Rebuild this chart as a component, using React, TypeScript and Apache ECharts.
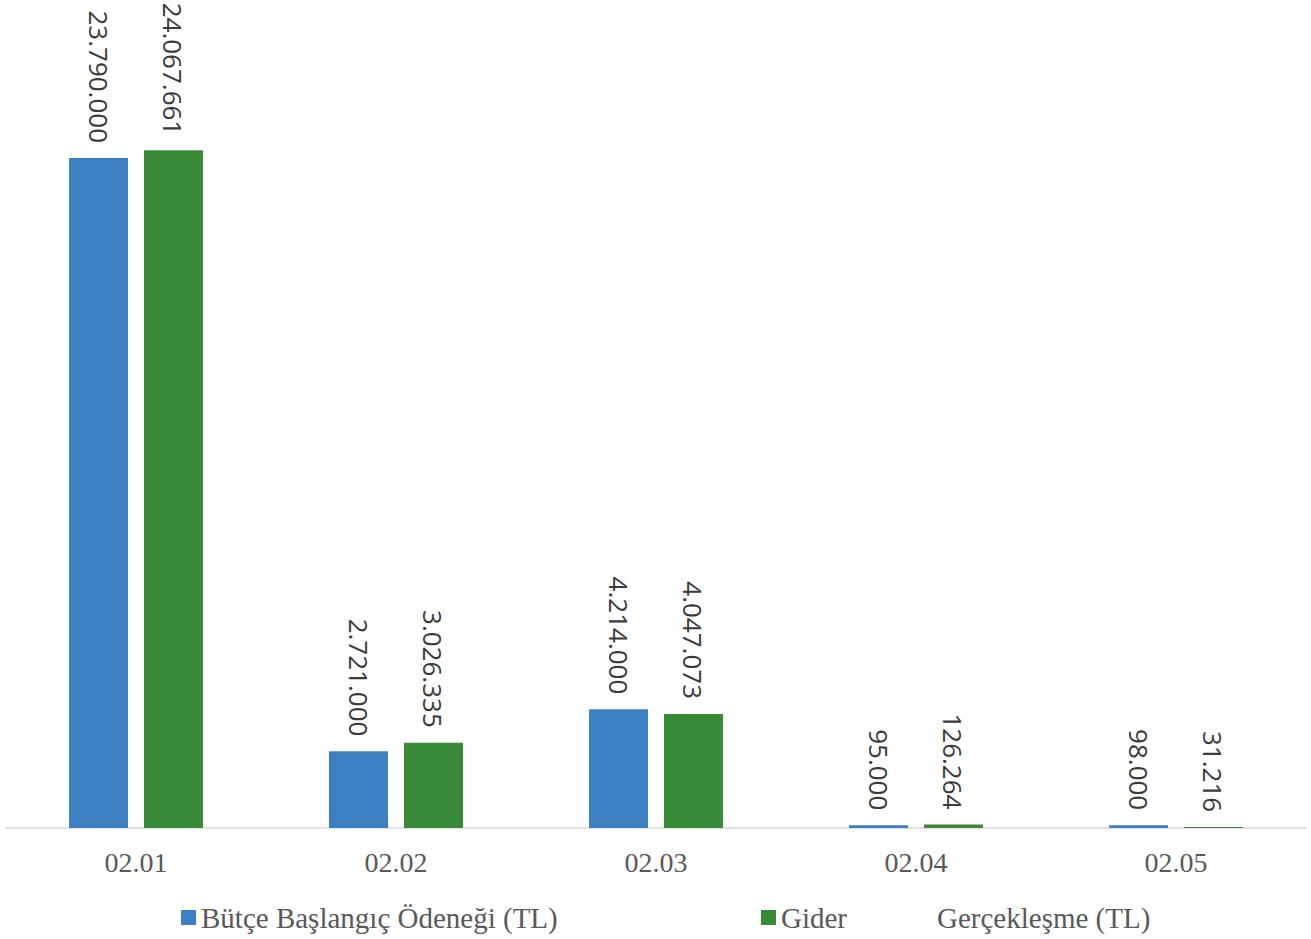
import React, { useEffect, useRef } from "react";
import * as echarts from "echarts";

const categories = ["02.01", "02.02", "02.03", "02.04", "02.05"];
const budgetName = "Bütçe Başlangıç Ödeneği (TL)";
const spendName = "Gider Gerçekleşme (TL)";
const budgetValues = [23790000, 2721000, 4214000, 95000, 98000];
const spendValues = [24067661, 3026335, 4047073, 126264, 31216];

const fmt = (v: number) => String(Math.round(v)).replace(/\B(?=(\d{3})+(?!\d))/g, ".");

export default function App() {
  const ref = useRef<HTMLDivElement>(null);
  useEffect(() => {
    const chart = echarts.init(ref.current!, null, { renderer: "svg" });
    const label = {
      show: true,
      position: "top" as const,
      rotate: -90,
      align: "right" as const,
      verticalAlign: "middle" as const,
      distance: 15,
      fontFamily: "Open Sans",
      fontSize: 26,
      color: "#3a3a3a",
      formatter: (p: any) => fmt(p.value),
    };
    const legendText = {
      fontFamily: "Liberation Serif",
      fontSize: 29,
      color: "#595959",
    };
    chart.setOption({
      animation: false,
      grid: { left: 6, right: 5, top: 39.5, bottom: 111, containLabel: false },
      legend: [
        {
          data: [budgetName],
          left: 176,
          top: 898,
          itemWidth: 15,
          itemHeight: 15,
          icon: "rect",
          textStyle: legendText,
        },
        {
          data: [spendName],
          left: 756,
          top: 898,
          itemWidth: 15,
          itemHeight: 15,
          icon: "rect",
          textStyle: {
            ...legendText,
            rich: {
              a: { ...legendText, width: 156 },
              b: { ...legendText },
            },
          },
          formatter: () => "{a|Gider}{b|Gerçekleşme (TL)}",
        },
      ],
      xAxis: {
        type: "category",
        data: categories,
        axisLine: { lineStyle: { color: "#d9d9d9", width: 1.5 } },
        axisTick: { show: false },
        axisLabel: {
          fontFamily: "Liberation Serif",
          fontSize: 28,
          color: "#595959",
          margin: 20,
        },
      },
      yAxis: {
        type: "value",
        min: 0,
        max: 28000000,
        show: false,
        splitLine: { show: false },
      },
      series: [
        {
          name: budgetName,
          type: "bar",
          data: budgetValues,
          barWidth: "22.7%",
          barGap: "27%",
          itemStyle: { color: "#3d80c1" },
          label,
        },
        {
          name: spendName,
          type: "bar",
          data: spendValues,
          barWidth: "22.7%",
          itemStyle: { color: "#398a36" },
          label,
        },
      ],
    });
    return () => chart.dispose();
  }, []);
  return (
    <div
      ref={ref}
      style={{ position: "absolute", left: 0, top: 0, width: 1311, height: 939, background: "#fff" }}
    />
  );
}
